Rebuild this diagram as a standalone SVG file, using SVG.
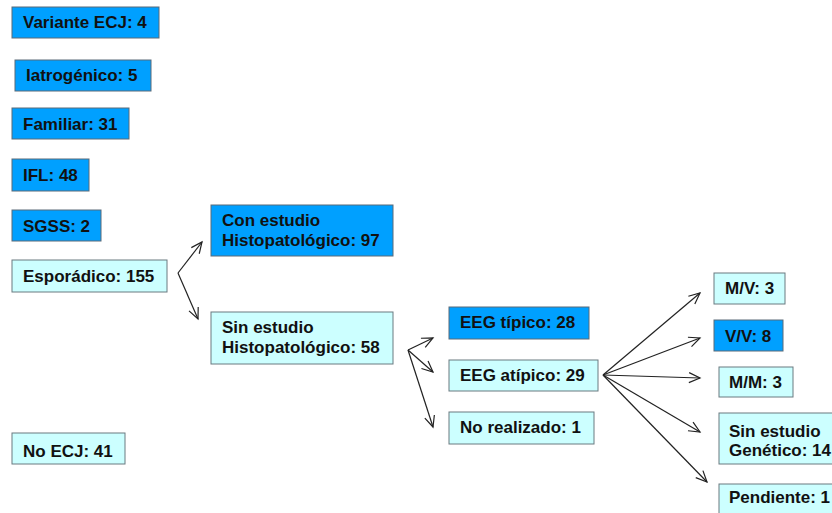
<svg xmlns="http://www.w3.org/2000/svg" width="832" height="513" viewBox="0 0 832 513">
<defs>
<style>
.dk{fill:#00A0FF;stroke:#5a6a78;stroke-width:1}
.lt{fill:#CCFFFF;stroke:#6a7a80;stroke-width:1}
text{font-family:"Liberation Sans",Arial,sans-serif;font-weight:bold;font-size:17px;fill:#111}
.ar{fill:none;stroke:#222;stroke-width:1.2;marker-end:url(#ah)}
</style>
<marker id="ah" markerWidth="14" markerHeight="14" refX="12" refY="6" orient="auto" markerUnits="userSpaceOnUse">
<polyline points="1,1 12,6 1,11" fill="none" stroke="#222" stroke-width="1.2"/>
</marker>
</defs>
<rect width="832" height="513" fill="#fff"/>
<g id="variante"><rect class="dk" x="12" y="7" width="147" height="31"/><text x="23" y="28">Variante ECJ: 4</text></g>
<g id="iatrogenico"><rect class="dk" x="15" y="60" width="136" height="31"/><text x="26" y="81">Iatrogénico: 5</text></g>
<g id="familiar"><rect class="dk" x="12" y="108" width="117" height="31"/><text x="23" y="130">Familiar: 31</text></g>
<g id="ifl"><rect class="dk" x="12" y="159" width="77" height="32"/><text x="23" y="181">IFL: 48</text></g>
<g id="sgss"><rect class="dk" x="12" y="210" width="89" height="31"/><text x="23" y="232">SGSS: 2</text></g>
<g id="esporadico"><rect class="lt" x="12" y="260" width="155" height="32"/><text x="23" y="282">Esporádico: 155</text></g>
<g id="noecj"><rect class="lt" x="12" y="433" width="113" height="31"/><text x="23" y="457">No ECJ: 41</text></g>
<g id="conestudio"><rect class="dk" x="211" y="205" width="182" height="51"/><text x="222" y="226">Con estudio</text><text x="222" y="246">Histopatológico:  97</text></g>
<g id="sinestudio"><rect class="lt" x="211" y="312" width="182" height="52"/><text x="222" y="333">Sin estudio</text><text x="222" y="353">Histopatológico:  58</text></g>
<g id="eegtipico"><rect class="dk" x="449" y="307" width="140" height="32"/><text x="460" y="328">EEG típico: 28</text></g>
<g id="eegatipico"><rect class="lt" x="449" y="360" width="149" height="31"/><text x="460" y="381">EEG atípico: 29</text></g>
<g id="norealizado"><rect class="lt" x="449" y="412" width="145" height="32"/><text x="460" y="433">No realizado: 1</text></g>
<g id="mv"><rect class="lt" x="714" y="273" width="71" height="31"/><text x="725" y="294">M/V: 3</text></g>
<g id="vv"><rect class="dk" x="714" y="320" width="69" height="31"/><text x="725" y="342">V/V: 8</text></g>
<g id="mm"><rect class="lt" x="719" y="367" width="74" height="30"/><text x="729" y="388">M/M: 3</text></g>
<g id="singenetico"><rect class="lt" x="719" y="413" width="120" height="51"/><text x="729" y="437">Sin estudio</text><text x="729" y="456">Genético: 14</text></g>
<g id="pendiente"><rect class="lt" x="719" y="484" width="120" height="40"/><text x="729" y="503">Pendiente: 1</text></g>
<g id="connectors">
<line class="ar" x1="178" y1="273" x2="202" y2="242"/>
<line class="ar" x1="178" y1="273" x2="198" y2="319"/>
<line class="ar" x1="408" y1="350" x2="433" y2="338"/>
<line class="ar" x1="408" y1="350" x2="433" y2="372"/>
<line class="ar" x1="408" y1="350" x2="433" y2="427"/>
<line class="ar" x1="603" y1="375" x2="700" y2="293"/>
<line class="ar" x1="603" y1="375" x2="700" y2="338"/>
<line class="ar" x1="603" y1="375" x2="700" y2="378"/>
<line class="ar" x1="603" y1="375" x2="700" y2="432"/>
<line class="ar" x1="603" y1="375" x2="707" y2="482"/>
</g>
</svg>
